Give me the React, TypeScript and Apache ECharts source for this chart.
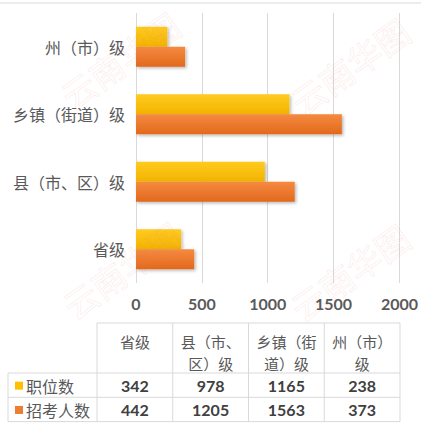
import React, { useEffect, useRef } from "react";
import * as echarts from "echarts";

const categories = ["省级", "县（市、区）级", "乡镇（街道）级", "州（市）级"];
const seriesNames = ["职位数", "招考人数"];
const positions = [342, 978, 1165, 238];
const applicants = [442, 1205, 1563, 373];
const xMin = 0;
const xMax = 2000;
const xStep = 500;

const W = 421;
const H = 425;
const colors = ["#FFC000", "#ED7D31"];
const gradients = [
  ["#FFCB1F", "#F2B300"],
  ["#F58A40", "#E2691C"],
];
const CJK = "'Noto Sans CJK SC', sans-serif";
const NUM = "Lato, 'Open Sans', sans-serif";

function wrap(s: string, n: number) {
  const arr = Array.from(s);
  const out: string[] = [];
  for (let i = 0; i < arr.length; i += n) out.push(arr.slice(i, i + n).join(""));
  return out.join("\n");
}

function buildTable() {
  const els: any[] = [];
  const lineColor = "#d9d9d9";
  const colX0 = 97;
  const colW = (400 - 97) / categories.length;
  const top = 323;
  const headerBottom = 373;
  const rowH = 24.3;
  const left = 8;
  const right = 400;
  const seriesData = [positions, applicants];
  const bottom = headerBottom + rowH * seriesData.length;
  const line = (x1: number, y1: number, x2: number, y2: number) => ({
    type: "line",
    shape: { x1, y1, x2, y2 },
    style: { stroke: lineColor, lineWidth: 1 },
    silent: true,
  });
  els.push(line(colX0, top, right, top));
  for (let r = 0; r <= seriesData.length; r++) {
    const y = headerBottom + r * rowH;
    els.push(line(left, y, right, y));
  }
  for (let c = 0; c <= categories.length; c++) {
    const x = colX0 + c * colW;
    els.push(line(x, top, x, bottom));
  }
  els.push(line(left, headerBottom, left, bottom));
  categories.forEach((cat, i) => {
    els.push({
      type: "text",
      x: colX0 + colW * (i + 0.5),
      y: 330,
      style: {
        text: wrap(cat, 4),
        fontSize: 15,
        fontFamily: CJK,
        fill: "#595959",
        align: "center",
        verticalAlign: "top",
        lineHeight: 22,
      },
      silent: true,
    });
  });
  seriesData.forEach((vals, r) => {
    const cy = headerBottom + rowH * (r + 0.5) + 0.5;
    els.push({
      type: "rect",
      shape: { x: 15, y: cy - 4, width: 8, height: 8 },
      style: { fill: colors[r] },
      silent: true,
    });
    els.push({
      type: "text",
      x: 26,
      y: cy,
      style: {
        text: seriesNames[r],
        fontSize: 16,
        fontFamily: CJK,
        fill: "#595959",
        align: "left",
        verticalAlign: "middle",
      },
      silent: true,
    });
    vals.forEach((v, i) => {
      els.push({
        type: "text",
        x: colX0 + colW * (i + 0.5),
        y: cy,
        style: {
          text: String(v),
          fontSize: 16,
          fontWeight: "bold",
          fontFamily: NUM,
          fill: "#404040",
          align: "center",
          verticalAlign: "middle",
        },
        silent: true,
      });
    });
  });
  return els;
}

function buildWatermarks() {
  const spots = [
    [120, 60],
    [350, 66],
    [122, 270],
    [350, 272],
  ];
  return spots.map(([x, y]) => ({
    type: "text",
    x,
    y,
    rotation: 0.62,
    z: 100,
    silent: true,
    style: {
      text: "云南华图",
      fontSize: 34,
      fontFamily: CJK,
      fill: "rgba(0,0,0,0)",
      stroke: "rgba(235,120,120,0.12)",
      lineWidth: 1,
      align: "center",
      verticalAlign: "middle",
    },
  }));
}

export default function App() {
  const ref = useRef<HTMLDivElement>(null);
  useEffect(() => {
    document.body.style.margin = "0";
    const chart = echarts.init(ref.current!, null, { renderer: "svg" });
    const mkSeries = (name: string, data: number[], idx: number) => ({
      name,
      type: "bar",
      data,
      barWidth: 20,
      barGap: "0%",
      itemStyle: {
        color: new echarts.graphic.LinearGradient(0, 0, 0, 1, [
          { offset: 0, color: gradients[idx][0] },
          { offset: 1, color: gradients[idx][1] },
        ]),
        shadowColor: "rgba(0,0,0,0.28)",
        shadowBlur: 3,
        shadowOffsetX: 1.5,
        shadowOffsetY: 1.5,
      },
    });
    chart.setOption({
      animation: false,
      backgroundColor: "#ffffff",
      grid: { left: 136, right: 21, top: 13, bottom: 142, containLabel: false },
      xAxis: {
        type: "value",
        min: xMin,
        max: xMax,
        interval: xStep,
        axisLine: { show: false },
        axisTick: { show: false },
        splitLine: { show: true, lineStyle: { color: "#d9d9d9", width: 1 } },
        axisLabel: {
          fontSize: 16,
          fontWeight: "bold",
          fontFamily: NUM,
          color: "#595959",
          margin: 12,
          formatter: (v: number) => String(v),
        },
      },
      yAxis: {
        type: "category",
        data: categories,
        axisLine: { show: false },
        axisTick: { show: false },
        axisLabel: {
          fontSize: 16,
          fontFamily: CJK,
          color: "#595959",
          margin: 11,
        },
      },
      series: [mkSeries(seriesNames[0], positions, 0), mkSeries(seriesNames[1], applicants, 1)],
      graphic: [
        {
          type: "line",
          shape: { x1: 0, y1: 3, x2: W, y2: 3 },
          style: { stroke: "#d9d9d9", lineWidth: 1 },
          silent: true,
        },
        ...buildTable(),
        ...buildWatermarks(),
      ],
    });
    return () => chart.dispose();
  }, []);
  return <div ref={ref} style={{ width: W, height: H }} />;
}
